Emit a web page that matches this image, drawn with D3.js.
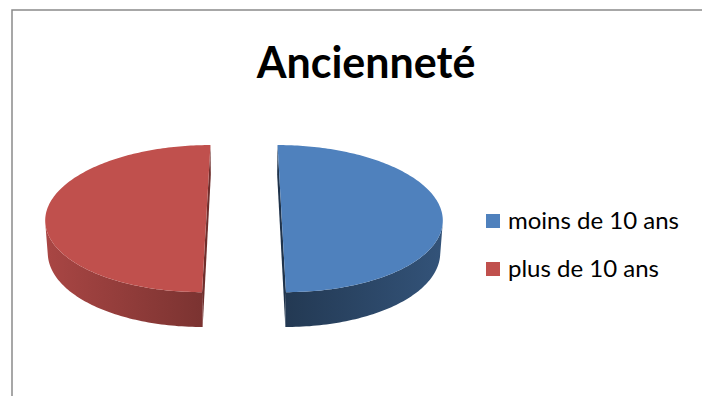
<!DOCTYPE html>
<html>
<head>
<meta charset="utf-8">
<script src="https://cdn.jsdelivr.net/npm/d3@7"></script>
<style>
  html, body { margin: 0; padding: 0; background: #fff; }
  svg { display: block; }
</style>
</head>
<body>
<script>
// Chart data
const title = "Ancienneté";
const categories = ["moins de 10 ans", "plus de 10 ans"];
const values = [50, 50];
const colors = ["#4F81BD", "#C0504D"];
// wall shading per slice: [outer end, cut end] brightness factors
const wallShade = [[0.64, 0.44], [0.88, 0.64]];

const W = 702, H = 396;
const svg = d3.select("body").append("svg")
  .attr("width", W).attr("height", H)
  .style("font-family", "Lato, 'Open Sans', sans-serif");

// chart frame (top and left edges visible)
svg.append("path")
  .attr("d", `M12,396 L12,10 L702,10`)
  .attr("fill", "none")
  .attr("stroke", "#8a8a8a")
  .attr("stroke-width", 1.5);

// title
svg.append("text")
  .attr("x", 366).attr("y", 78)
  .attr("text-anchor", "middle")
  .attr("font-weight", 700)
  .attr("font-size", 43)
  .attr("fill", "#000")
  .text(title);

// ---- 3D pie ----
const tilt = 27 * Math.PI / 180;   // elevation of the viewpoint
const dist = 8;                    // camera distance (in radii)
const depth = 0.228;               // pie thickness (in radii)
const explode = 0.233;             // slice offset (in radii)

// world units -> screen pixels
const sx = d3.scaleLinear().domain([0, 1]).range([244, 244 + 160]);
const sy = d3.scaleLinear().domain([0, 1]).range([210.4, 210.4 - 160]);

function project(X, Y, Z) {
  const v = Y * Math.cos(tilt) + Z * Math.sin(tilt);
  const w = dist - Y * Math.sin(tilt) + Z * Math.cos(tilt);
  const f = dist / w;
  return [sx(X * f), sy(v * f)];
}
const cam = [0, dist * Math.sin(tilt), -dist * Math.cos(tilt)];
function facing(n, p) {
  return n[0] * (cam[0] - p[0]) + n[1] * (cam[1] - p[1]) + n[2] * (cam[2] - p[2]) > 0;
}

const pie = d3.pie().sort(null).value(d => d).startAngle(0).endAngle(2 * Math.PI);
const arcs = pie(values);
const poly = d3.line().curve(d3.curveLinearClosed);
const defs = svg.append("defs");
const shade = (c, k) => d3.interpolateRgb("#000", c)(k);

const pieG = svg.append("g");
arcs.forEach((a, i) => {
  const mid = (a.startAngle + a.endAngle) / 2;
  const ox = explode * Math.sin(mid), oz = explode * Math.cos(mid);
  const rim = (t, y) => [ox + Math.sin(t), y, oz + Math.cos(t)];
  const ctr = y => [ox, y, oz];
  const N = 160;
  const ts = d3.range(N + 1).map(k => a.startAngle + (a.endAngle - a.startAngle) * k / N);
  const base = colors[i];
  const g = pieG.append("g");

  // radial cut faces
  [[a.startAngle, -1], [a.endAngle, 1]].forEach(([t, s]) => {
    const n = [s * Math.cos(t), 0, -s * Math.sin(t)];
    const r = rim(t, 0);
    const pm = [(ox + r[0]) / 2, -depth / 2, (oz + r[2]) / 2];
    if (facing(n, pm)) {
      const pts = [ctr(0), rim(t, 0), rim(t, -depth), ctr(-depth)].map(q => project(...q));
      g.append("path").attr("d", poly(pts)).attr("fill", shade(base, wallShade[i][1] * 0.9));
    }
  });

  // outer wall (visible portion)
  const vis = ts.filter(t => facing([Math.sin(t), 0, Math.cos(t)], rim(t, -depth / 2)));
  if (vis.length > 1) {
    const top = vis.map(t => project(...rim(t, 0)));
    const bot = vis.map(t => project(...rim(t, -depth)));
    const first = vis[0], last = vis[vis.length - 1];
    // lighter at the outer extreme, darker where the wall meets the cut
    const outerIsFirst = Math.abs(Math.sin(first)) > Math.abs(Math.sin(last));
    const pOuter = outerIsFirst ? top[0] : top[top.length - 1];
    const pCut = outerIsFirst ? bot[bot.length - 1] : bot[0];
    const gid = "wall" + i;
    const lg = defs.append("linearGradient").attr("id", gid)
      .attr("gradientUnits", "userSpaceOnUse")
      .attr("x1", pOuter[0]).attr("y1", 0).attr("x2", pCut[0]).attr("y2", 0);
    lg.append("stop").attr("offset", 0).attr("stop-color", shade(base, wallShade[i][0]));
    lg.append("stop").attr("offset", 1).attr("stop-color", shade(base, wallShade[i][1]));
    g.append("path").attr("d", poly(top.concat(bot.reverse()))).attr("fill", `url(#${gid})`);
  }

  // top face
  const topPts = [project(...ctr(0))].concat(ts.map(t => project(...rim(t, 0))));
  g.append("path").attr("d", poly(topPts)).attr("fill", base);
});

// ---- legend ----
const legend = svg.append("g");
categories.forEach((c, i) => {
  const y = 229 + i * 48;
  legend.append("rect")
    .attr("x", 486).attr("y", y - 15).attr("width", 14).attr("height", 14)
    .attr("fill", colors[i]);
  legend.append("text")
    .attr("x", 508).attr("y", y)
    .attr("font-size", 24)
    .attr("fill", "#000")
    .text(c);
});
</script>
</body>
</html>
